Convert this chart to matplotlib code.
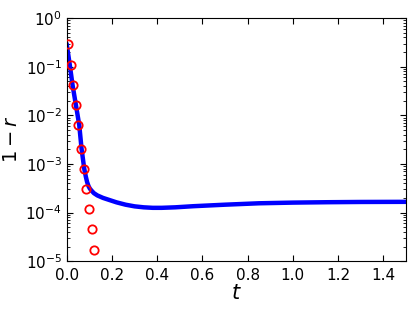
import matplotlib
matplotlib.use("Agg")
import matplotlib.pyplot as plt
from matplotlib.ticker import LogLocator, NullFormatter

# Blue curve (t, 1-r)
line_t = [0.0, 0.013, 0.025, 0.04, 0.055, 0.065, 0.077, 0.084, 0.09, 0.096,
          0.102, 0.11, 0.12, 0.135, 0.16, 0.19, 0.22, 0.26, 0.3, 0.34, 0.38,
          0.42, 0.48, 0.56, 0.7, 0.85, 1.0, 1.15, 1.3, 1.5]
line_y = [0.28, 0.11, 0.043, 0.0165, 0.0063, 0.0021, 0.0008, 0.00055,
          0.00042, 0.00035, 0.00031, 0.00028, 0.00025, 0.000225, 0.0002,
          0.00018, 0.000162, 0.000145, 0.000134, 0.000128, 0.000125,
          0.000125, 0.000128, 0.000135, 0.000145, 0.000155, 0.00016,
          0.000163, 0.000165, 0.000166]

# Red circles
pts_t = [0.005, 0.017, 0.028, 0.04, 0.05, 0.062, 0.075, 0.087, 0.097, 0.11, 0.122]
pts_y = [0.29, 0.11, 0.043, 0.0165, 0.0063, 0.00207, 0.00079, 0.0003,
         0.000117, 4.5e-5, 1.7e-5]

xticks = [0.0, 0.2, 0.4, 0.6, 0.8, 1.0, 1.2, 1.4]
xticklabels = ["0.0", "0.2", "0.4", "0.6", "0.8", "1.0", "1.2", "1.4"]

fig = plt.figure(figsize=(4.15, 3.12), dpi=100)
ax = fig.add_axes([0.161, 0.163, 0.817, 0.779])

ax.plot(line_t, line_y, color="#0000ff", lw=3.2, zorder=2,
        solid_joinstyle='round')
ax.plot(pts_t, pts_y, 'o', mfc='none', mec='#ff0000', mew=1.3, ms=6, zorder=3)

ax.set_yscale('log')
ax.set_xlim(0, 1.5)
ax.set_ylim(1e-5, 1)
ax.set_xticks(xticks)
ax.set_xticklabels(xticklabels)
ax.yaxis.set_major_locator(LogLocator(base=10, numticks=10))
ax.yaxis.set_minor_locator(LogLocator(base=10, subs=range(2, 10), numticks=20))
ax.yaxis.set_minor_formatter(NullFormatter())

ax.tick_params(which='both', direction='in', top=True, right=True, labelsize=11)
ax.tick_params(which='major', length=4)
ax.tick_params(which='minor', length=2)
ax.tick_params(axis='x', pad=5)

ax.set_xlabel(r'$t$', fontsize=15, labelpad=0)
ax.set_ylabel(r'$1-r$', fontsize=14, labelpad=3)

fig.savefig("out.png", dpi=100)
